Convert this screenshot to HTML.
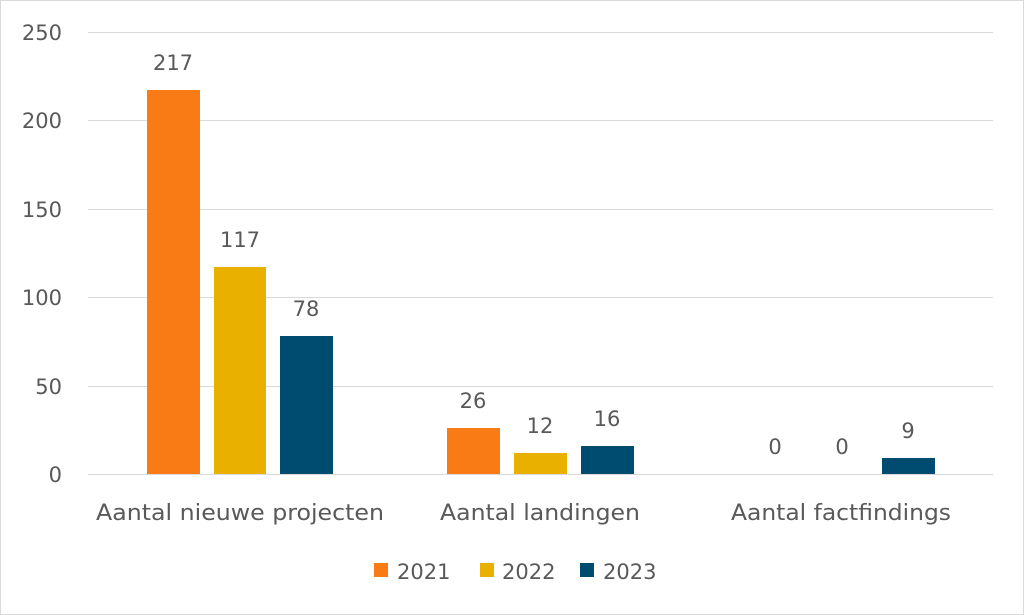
<!DOCTYPE html>
<html><head><meta charset="utf-8"><style>
html,body{margin:0;padding:0;background:#fff}
svg{display:block}
text{font-family:"DejaVu Sans","Liberation Sans",sans-serif;fill:#595959}
</style></head><body>
<svg width="1024" height="615" viewBox="0 0 1024 615">
<rect x="0.5" y="0.5" width="1023" height="614" fill="#fff" stroke="#d9d9d9"/>
<g stroke="#d9d9d9" stroke-width="1">
<line x1="88" y1="32.5" x2="993" y2="32.5"/>
<line x1="88" y1="120.5" x2="993" y2="120.5"/>
<line x1="88" y1="209.5" x2="993" y2="209.5"/>
<line x1="88" y1="297.5" x2="993" y2="297.5"/>
<line x1="88" y1="386.5" x2="993" y2="386.5"/>
<line x1="88" y1="474.5" x2="993" y2="474.5"/>
</g>
<g font-size="21" text-anchor="end">
<text x="62" y="40">250</text>
<text x="62" y="128">200</text>
<text x="62" y="217">150</text>
<text x="62" y="305">100</text>
<text x="62" y="394">50</text>
<text x="62" y="482">0</text>
</g>
<rect x="147" y="90" width="53" height="384" fill="#F97B16"/>
<rect x="214" y="267" width="52" height="207" fill="#EAB000"/>
<rect x="280" y="336" width="53" height="138" fill="#004C71"/>
<rect x="447" y="428" width="53" height="46" fill="#F97B16"/>
<rect x="514" y="453" width="53" height="21" fill="#EAB000"/>
<rect x="581" y="446" width="53" height="28" fill="#004C71"/>
<rect x="882" y="458" width="53" height="16" fill="#004C71"/>
<g font-size="21" text-anchor="middle">
<text x="173" y="70">217</text>
<text x="240" y="247">117</text>
<text x="306" y="316">78</text>
<text x="473" y="408">26</text>
<text x="540" y="433">12</text>
<text x="607" y="426">16</text>
<text x="775" y="454">0</text>
<text x="842" y="454">0</text>
<text x="908" y="438">9</text>
</g>
<g font-size="22">
<text x="96" y="520" textLength="288" lengthAdjust="spacingAndGlyphs">Aantal nieuwe projecten</text>
<text x="440" y="520" textLength="200" lengthAdjust="spacingAndGlyphs">Aantal landingen</text>
<text x="731" y="520" textLength="220" lengthAdjust="spacingAndGlyphs">Aantal factfindings</text>
</g>
<rect x="374" y="563" width="14" height="14" fill="#F97B16"/>
<text x="397" y="579" font-size="21">2021</text>
<rect x="480" y="563" width="14" height="14" fill="#EAB000"/>
<text x="502" y="579" font-size="21">2022</text>
<rect x="580" y="563" width="14" height="14" fill="#004C71"/>
<text x="603" y="579" font-size="21">2023</text>
</svg>
</body></html>
